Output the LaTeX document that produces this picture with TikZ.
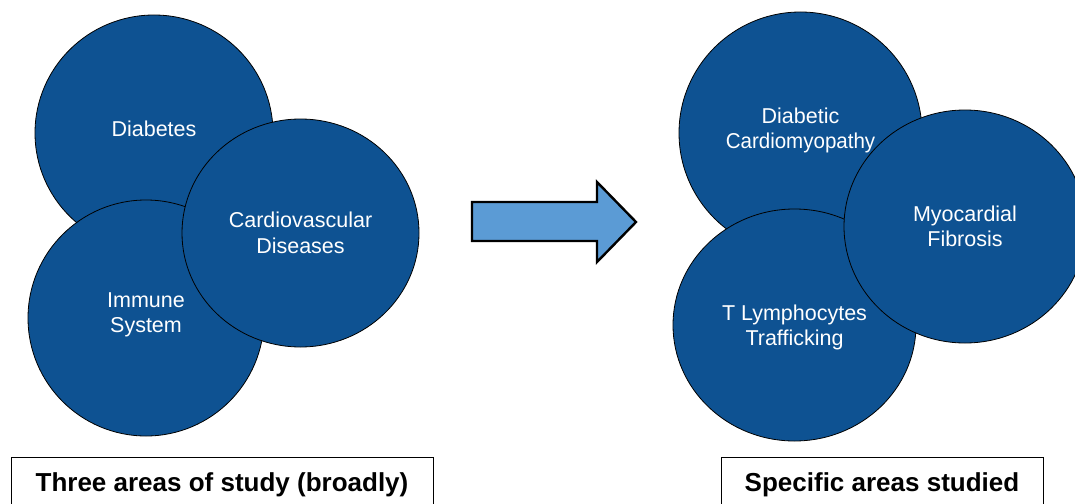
\documentclass[tikz,border=0pt]{standalone}
\usepackage{fontspec}
\setmainfont{Liberation Sans}
\usetikzlibrary{shapes.geometric}
\definecolor{blobblue}{RGB}{14,82,146}
\definecolor{arrowblue}{RGB}{91,155,213}
\begin{document}
\begin{tikzpicture}[x=1pt,y=-1pt,
  blob/.style={ellipse, draw=black, line width=0.8pt, fill=blobblue, text=white,
    align=center, inner sep=0pt, font=\fontsize{21.5}{25.5}\selectfont},
  caption/.style={draw=black, line width=1pt, anchor=north, inner xsep=0pt,
    inner ysep=16pt, text height=18pt, text depth=5pt,
    font=\bfseries\fontsize{26}{30}\selectfont},
  bigarrow/.style={draw=black, line width=2.4pt, fill=arrowblue, line join=miter}]
\useasboundingbox (0,0) rectangle (1075,503);
\clip (0,0) rectangle (1075,503);
% left group
\node[blob, text depth=8pt, minimum width=238pt, minimum height=236pt] (dia) at (154,133) {Diabetes};
\node[blob, text depth=10.5pt, minimum width=236pt, minimum height=236pt] (imm) at (146,318) {Immune\\System};
\node[blob, minimum width=237pt, minimum height=228pt] (cvd) at (300.5,233) {Cardiovascular\\Diseases};
% arrow
\filldraw[bigarrow] (472,202) -- (597,202) -- (597,182) -- (636,222) -- (597,262) -- (597,241) -- (472,241) -- cycle;
% right group
\node[blob, text depth=10pt, minimum width=243pt, minimum height=242pt] (dcm) at (800.5,133) {Diabetic\\\scalebox{0.955}[1]{Cardiomyopathy}};
\node[blob, text depth=0pt, minimum width=243pt, minimum height=232pt] (tly) at (794.5,325) {T Lymphocytes\\Trafficking};
\node[blob, minimum width=242pt, minimum height=233pt] (myo) at (965,226.5) {Myocardial\\Fibrosis};
% captions
\node[caption, minimum width=422pt] (capl) at (222,457) {Three areas of study (broadly)};
\node[caption, minimum width=322pt] (capr) at (882,457) {Specific areas studied};
\end{tikzpicture}
\end{document}
